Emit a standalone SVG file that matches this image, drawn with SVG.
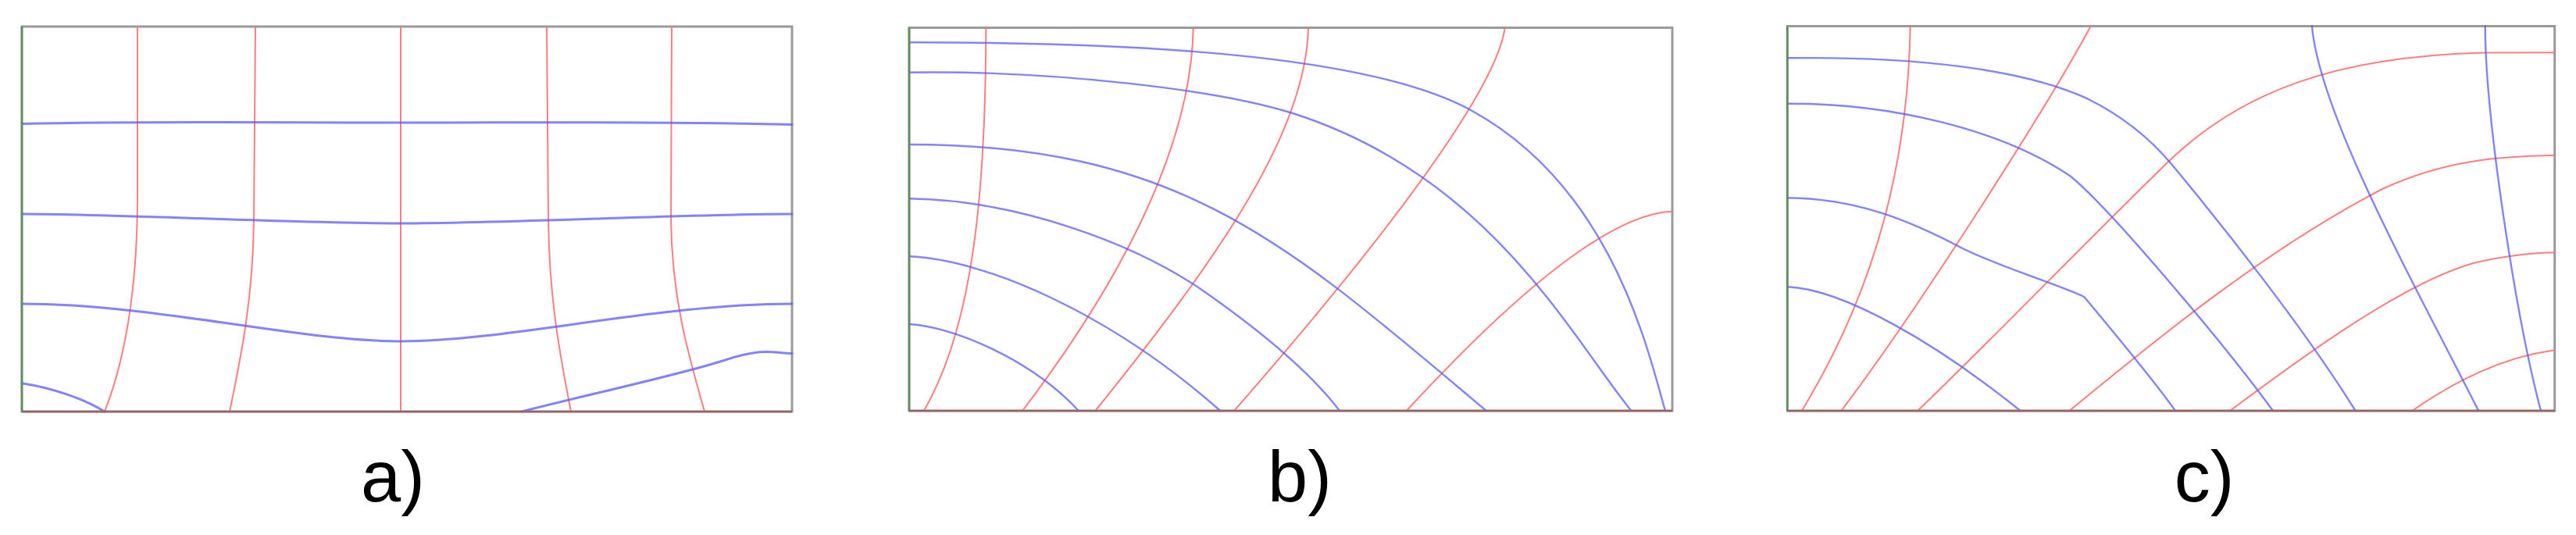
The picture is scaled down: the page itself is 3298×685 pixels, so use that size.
<svg xmlns="http://www.w3.org/2000/svg" width="3298" height="685" viewBox="0 0 3298 685">
<style>
.frame{fill:#fff;stroke:#9a9a9a;stroke-width:3}
.left{stroke:#5f8f5f;stroke-width:2.5;fill:none}
.bottom{stroke:#9a6464;stroke-width:2.5;fill:none}
.r{fill:none;stroke:#ff6f6f;stroke-width:2;stroke-opacity:0.9;stroke-linecap:round}
.b{fill:none;stroke:#5a5aff;stroke-width:2.4;stroke-opacity:0.75;stroke-linecap:round}
.bt{stroke-width:3}
.lbl{font-family:"Liberation Sans",Arial,sans-serif;font-size:92px;fill:#000;text-anchor:middle}
</style>
<rect width="3298" height="685" fill="#fff"/>

<g id="panel-a">
<rect class="frame" x="28" y="34" width="986" height="493"/>
<g id="panel-a-red">
<path class="r" d="M176,34 L176,250 C176,340 168,440 134,527"/>
<path class="r" d="M327,34 L325,280 C324,380 310,450 294,527"/>
<path class="r" d="M513,34 L513,527"/>
<path class="r" d="M700,34 L702,280 C703,380 716,450 731,527"/>
<path class="r" d="M860,34 L859,280 C860,380 880,450 902,527"/>
</g>
<g id="panel-a-blue">
<path class="b bt" d="M28,158.5 C200,155 350,157 513,157 C680,157 850,155 1014,159.5"/>
<path class="b bt" d="M28,274 C150,274 380,286 513,286 C650,286 880,274 1014,274"/>
<path class="b bt" d="M28,389 C200,389 380,437 513,437 C650,437 840,389 1014,389"/>
<path class="b bt" d="M28,490.7 C70,497 110,512 134,527"/>
<path class="b bt" d="M668,527 C740,508 870,480 925,462 S990,452 1014,452.5"/>
</g>
<line class="left" x1="28" y1="34" x2="28" y2="527"/>
<line class="bottom" x1="28" y1="527" x2="1014" y2="527"/>
<text class="lbl" x="503" y="642">a)</text>
</g>

<g id="panel-b">
<rect class="frame" x="1164" y="35.5" width="977" height="490.5"/>
<g id="panel-b-red">
<path class="r" d="M1262.3,35.7 C1262,250 1245,420 1182.7,526"/>
<path class="r" d="M1527.7,35.7 C1525,200 1420,380 1309,526"/>
<path class="r" d="M1675,35.7 C1672,170 1560,330 1402.3,526"/>
<path class="r" d="M1926.7,35.7 C1915,120 1760,320 1580,526"/>
<path class="r" d="M1800.7,526 C1880,440 2040,275 2140,270.7"/>
</g>
<g id="panel-b-blue">
<path class="b" d="M1164,54.3 C1500,54 1764.3,75.7 1884.3,141.7 C2064.3,240.7 2110,450 2131.7,525"/>
<path class="b" d="M1164,92.7 C1350,90 1560,115 1655,145 C1905,225 2007.7,425 2087.7,525"/>
<path class="b" d="M1164,185 C1514,185 1651.7,315 1901.7,525"/>
<path class="b" d="M1164,254.3 C1300,256 1450,310 1540,372 C1620,428 1680,480 1714.3,525"/>
<path class="b" d="M1164,328.3 C1260,332 1420,400 1562.3,526"/>
<path class="b" d="M1164,415 C1220,418 1320,460 1381,526"/>
</g>
<line class="left" x1="1164" y1="35.5" x2="1164" y2="526"/>
<line class="bottom" x1="1164" y1="526" x2="2141" y2="526"/>
<text class="lbl" x="1664" y="642">b)</text>
</g>

<g id="panel-c">
<rect class="frame" x="2288.3" y="33.5" width="982.4" height="492.5"/>
<g id="panel-c-red">
<path class="r" d="M2445.7,33.5 C2443,200 2405,365 2306.7,526"/>
<path class="r" d="M2676.7,33.5 C2625,130 2460,390 2357.3,526"/>
<path class="r" d="M2455,526 C2540,445 2680,300 2780,203.3 C2870,118 2990,72 3181.7,67.5 L3270.7,67.3"/>
<path class="r" d="M2649.3,526 C2760,435 2900,320 3050,242 C3130,205 3200,200 3270.7,199"/>
<path class="r" d="M2855,526 C2950,455 3080,360 3170,336 C3220,325 3250,323.5 3270.7,323.3"/>
<path class="r" d="M3088.3,526 C3140,490 3200,458 3270.7,448.3"/>
</g>
<g id="panel-c-blue">
<path class="b" d="M2288.3,74.3 C2450,72 2590,88 2673.3,126.7 C2720,150 2755,180 2780,210 C2840,282 2950,420 3015,525"/>
<path class="b" d="M2288.3,132.7 C2420,132 2560,165 2650,225 C2700,265 2850,443.5 2909.3,525"/>
<path class="b" d="M2288.3,253.3 C2380,254 2450,285 2510,316.7 C2560,342 2630,362 2668.3,380 C2700,418 2760,490 2785,526"/>
<path class="b" d="M2288.3,367.3 C2360,370 2480,440 2586.7,526"/>
<path class="b" d="M2960,33.5 C2970,150 3100,380 3172.7,525"/>
<path class="b" d="M3181.7,33.5 C3182,150 3220,400 3252.7,525"/>
</g>
<line class="left" x1="2288.3" y1="33.5" x2="2288.3" y2="526"/>
<line class="bottom" x1="2288.3" y1="526" x2="3270.7" y2="526"/>
<text class="lbl" x="2822" y="642">c)</text>
</g>
</svg>
